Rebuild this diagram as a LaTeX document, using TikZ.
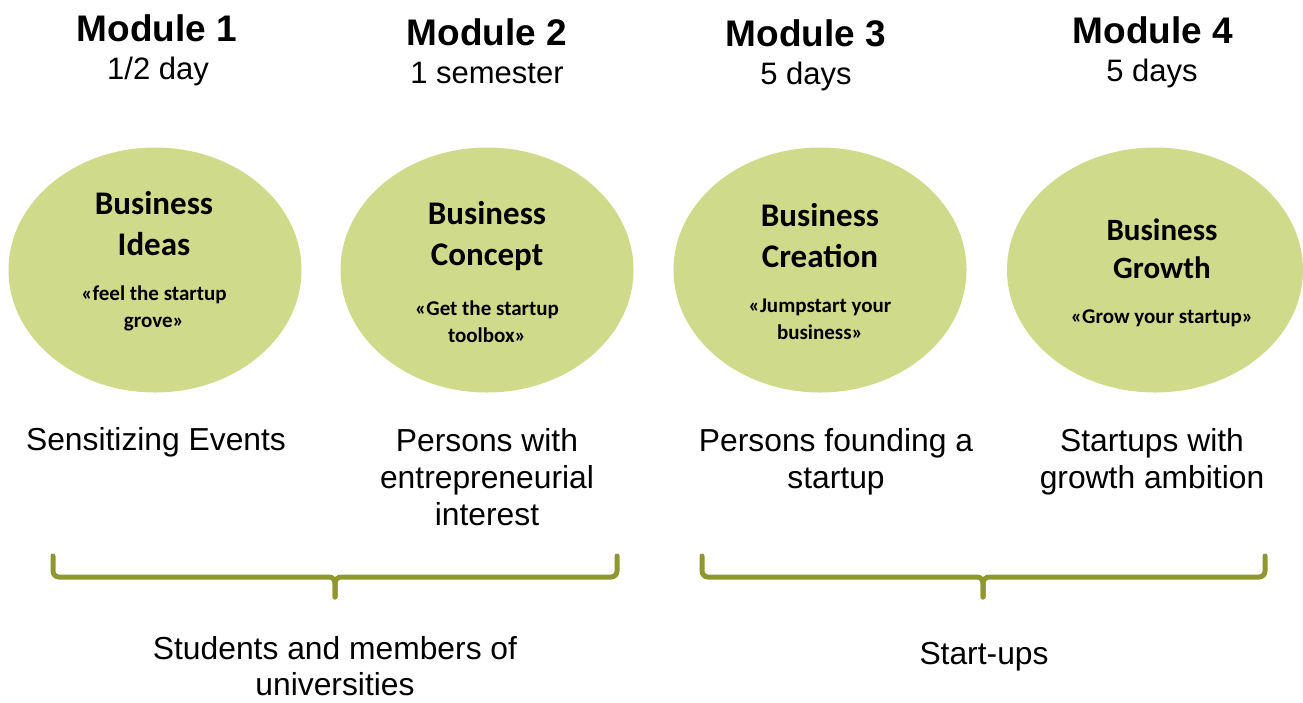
\documentclass[tikz,border=0pt]{standalone}
\usepackage{fontspec}
\setmainfont{Liberation Sans}
\newfontfamily\calib{Carlito}
\usetikzlibrary{shapes.geometric}
\definecolor{blobfill}{RGB}{208,218,139}
\definecolor{bracecol}{RGB}{143,152,46}
\tikzset{
  modtitle/.style={anchor=base, inner sep=0pt, font=\fontsize{37}{40}\selectfont\bfseries},
  modtime/.style={anchor=base, inner sep=0pt, font=\fontsize{31}{34}\selectfont},
  blob/.style={ellipse, fill=blobfill, minimum width=293pt, minimum height=245pt, inner sep=0pt},
  blobtitle/.style={anchor=base, inner sep=0pt, align=center, font=\calib\fontsize{33}{41}\selectfont\bfseries},
  blobsub/.style={anchor=base, inner sep=0pt, align=center, font=\calib\fontsize{21}{27}\selectfont\bfseries},
  target/.style={anchor=base, inner sep=0pt, align=center, font=\fontsize{31.8}{37}\selectfont},
  bracket/.style={draw=bracecol, line width=5pt, rounded corners=6pt, line cap=round}
}
\begin{document}
\begin{tikzpicture}[x=1pt,y=-1pt]
  \useasboundingbox (0,0) rectangle (1303,702);
  \clip (0,0) rectangle (1303,702);
  % module headings
  \node [modtitle] (m1) at (157,41) {Module 1};
  \node [modtime] (t1) at (158,79) {1/2 day};
  \node [modtitle] (m2) at (487,45) {Module 2};
  \node [modtime] (t2) at (487,83) {1 semester};
  \node [modtitle] (m3) at (806,46) {Module 3};
  \node [modtime] (t3) at (806,84) {5 days};
  \node [modtitle] (m4) at (1153,43) {Module 4};
  \node [modtime] (t4) at (1152,81) {5 days};
  % the four ellipses (base = last line)
  \node [blob] (ideas) at (155,270) {};
  \node [blob] (concept) at (487,270) {};
  \node [blob] (creation) at (820,270) {};
  \node [blob, minimum width=296pt] (growth) at (1155,270) {};
  \node [blobtitle] (ideasT) at (154,255) {Business\\Ideas};
  \node [blobsub] (ideasS) at (154,327) {«feel the startup\\grove»};
  \node [blobtitle] (conceptT) at (487,265) {Business\\Concept};
  \node [blobsub] (conceptS) at (487,342) {«Get the startup\\toolbox»};
  \node [blobtitle] (creationT) at (820,267) {Business\\Creation};
  \node [blobsub] (creationS) at (820,339) {«Jumpstart your\\business»};
  \node [blobtitle, font=\calib\fontsize{31}{38}\selectfont\bfseries] (growthT) at (1162,278) {Business\\Growth};
  \node [blobsub] (growthS) at (1162,323) {«Grow your startup»};
  % target groups
  \node [target] (g1) at (156,450) {Sensitizing Events};
  \node [target] (g2) at (487,525) {Persons with\\entrepreneurial\\interest};
  \node [target] (g3) at (836,488) {Persons founding a\\startup};
  \node [target] (g4) at (1152,488) {Startups with\\growth ambition};
  % brackets
  \coordinate (b1l) at (53,556);
  \coordinate (b1r) at (617,556);
  \coordinate (b1m) at (335,577);
  \coordinate (b1t) at (335,597);
  \draw [bracket] (b1l) |- (b1m) -- (b1t);
  \draw [bracket] (b1r) |- (b1m) -- (b1t);
  \coordinate (b2l) at (702,556);
  \coordinate (b2r) at (1265,556);
  \coordinate (b2m) at (983,577);
  \coordinate (b2t) at (983,597);
  \draw [bracket] (b2l) |- (b2m) -- (b2t);
  \draw [bracket] (b2r) |- (b2m) -- (b2t);
  \node [target, font=\fontsize{31.8}{36}\selectfont] (students) at (335,695) {Students and members of\\universities};
  \node [target] (startups) at (984,664) {Start-ups};
\end{tikzpicture}
\end{document}
